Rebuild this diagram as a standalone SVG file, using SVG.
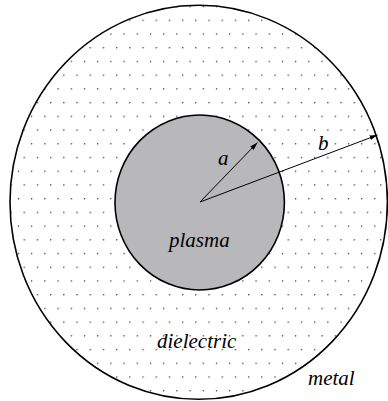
<svg xmlns="http://www.w3.org/2000/svg" width="388" height="401" viewBox="0 0 388 401">
<style>
.lbl{font-family:"Liberation Serif","Tinos","Times New Roman","DejaVu Serif",serif;font-style:italic;font-size:21px;fill:#000}
.edge{stroke:#000;stroke-width:1.6}
.diel{fill:url(#dots)}
.plas{fill:#b8b8bb}
.arr{fill:none;stroke:#000;stroke-width:1;marker-end:url(#ah)}
</style>
<defs>
<pattern id="dots" patternUnits="userSpaceOnUse" x="0" y="0" width="13.2" height="27.44">
<rect width="13.2" height="27.44" fill="#fff"/>
<circle cx="5.3" cy="6.56" r="0.7" fill="#222"/>
<circle cx="11.1" cy="20.28" r="0.7" fill="#222"/>
</pattern>
<marker id="ah" markerWidth="9" markerHeight="6" refX="8" refY="3" orient="auto" markerUnits="userSpaceOnUse">
<path d="M0,0.6 L8,3 L0,5.4 Z" fill="#000"/>
</marker>
</defs>
<rect width="388" height="401" fill="#fff"/>
<g id="dielectric">
<ellipse class="edge diel" cx="198.7" cy="202.3" rx="188.7" ry="197"/>
<text class="lbl" x="157" y="348">dielectric</text>
</g>
<g id="metal">
<text class="lbl" x="308" y="385">metal</text>
</g>
<g id="plasma">
<ellipse class="edge plas" cx="199.7" cy="202.5" rx="84.7" ry="87.5"/>
<text class="lbl" x="169" y="247">plasma</text>
</g>
<g id="connectors">
<line class="arr" x1="200" y1="202" x2="257.5" y2="142.5"/>
<line class="arr" x1="200" y1="202" x2="377.5" y2="135"/>
<text class="lbl" x="218" y="165">a</text>
<text class="lbl" x="318" y="150">b</text>
</g>
</svg>
